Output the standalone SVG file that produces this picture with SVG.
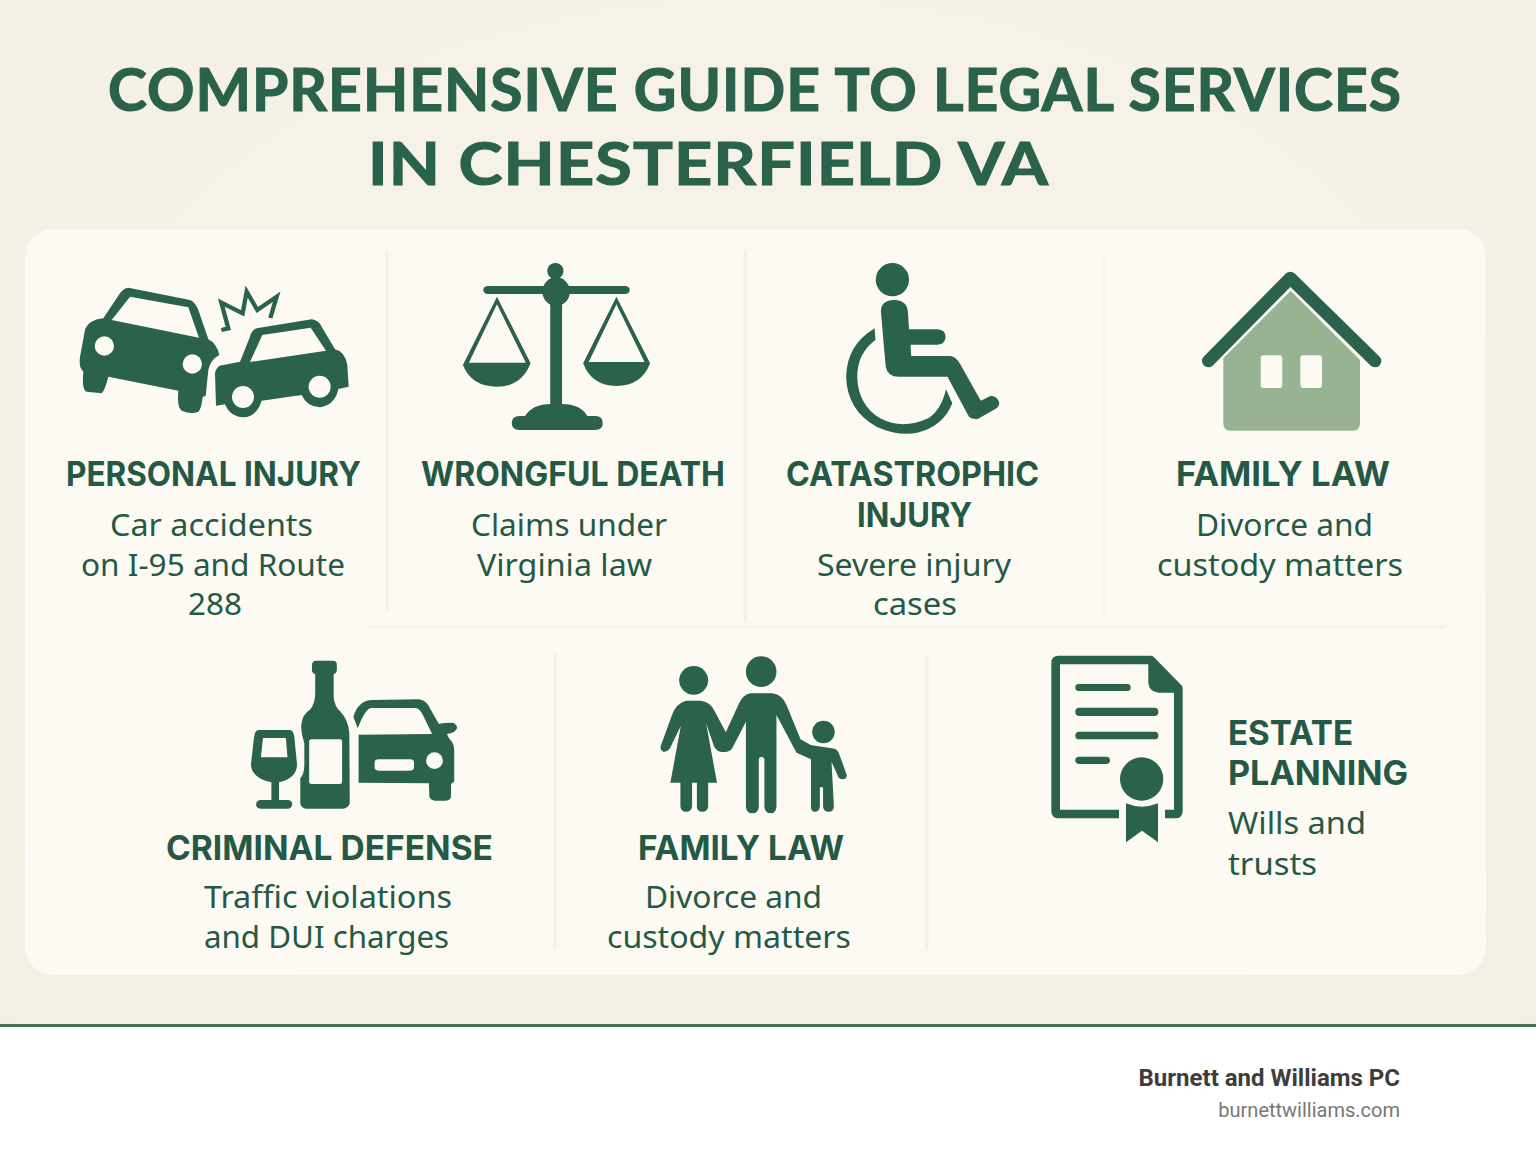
<svg xmlns="http://www.w3.org/2000/svg" width="1536" height="1154" viewBox="0 0 1536 1154">
<defs>
<radialGradient id="bg" cx=".5" cy=".45" r=".75"><stop offset=".5" stop-color="#f6f2e8"/><stop offset="1" stop-color="#f3efe3"/></radialGradient>
</defs>
<style>
.i{fill:#2a624b;fill-rule:evenodd}
.h{font-family:Inter,"Noto Sans","Liberation Sans",sans-serif;font-weight:700;font-size:34px;fill:#245a45}
.b{font-family:"Noto Sans","Liberation Sans",sans-serif;font-weight:400;font-size:31px;fill:#245a45}
.t{font-family:Lato,"Liberation Sans",sans-serif;font-weight:700;font-size:59px;fill:#2a624b;stroke:#2a624b;stroke-width:1.2px}
.d{stroke:#f6f2e9;stroke-width:3;fill:none}
.f{font-family:Roboto,"Liberation Sans",sans-serif;text-anchor:end}
</style>
<rect width="1536" height="1154" fill="#fff"/>
<rect id="background" width="1536" height="1025" fill="url(#bg)"/>
<rect id="footer-rule" y="1024" width="1536" height="3" fill="#44734f"/>
<rect id="panel" x="25" y="229" width="1461" height="746" rx="28" fill="#fdf9f3"/>
<g id="title">
<text class="t" x="108" y="111" textLength="1294" lengthAdjust="spacingAndGlyphs" letter-spacing="1">COMPREHENSIVE GUIDE TO LEGAL SERVICES</text>
<text class="t" x="368" y="185" textLength="681" lengthAdjust="spacingAndGlyphs" letter-spacing="1">IN CHESTERFIELD VA</text>
</g>
<g id="connectors">
<path class="d" d="M387 250V612M745 250V622M1104 255V615M368 627H1445M555 652V950M927 655V950"/>
</g>
<g id="personal-injury">
<g transform="translate(60 250) scale(.33333)">
<path class="i" d="M205 113L390 150Q405 155 415 180L445 268Q470 280 478 315Q450 330 445 360L437 438L428 440Q425 475 415 485Q395 495 365 482Q350 470 355 422L145 380Q135 420 125 430L80 425Q65 420 70 365Q55 350 60 320L75 240Q85 210 130 205L180 130Q190 115 205 113ZM210 140L155 210L417 263L385 172Z"/>
<circle cx="133" cy="288" r="29" fill="#fdf9f3"/><circle cx="397" cy="342" r="29" fill="#fdf9f3"/>
<path class="i" d="M590 235L755 208Q775 210 785 230L825 298Q855 305 862 345L866 410L835 417Q825 465 780 472Q740 470 725 435L605 452Q590 500 550 502Q510 500 495 463L468 467L465 370Q470 345 490 345L540 335L570 260Q575 240 590 235ZM607 255L570 336L798 302L752 233Z"/>
<circle cx="549" cy="441" r="33" fill="#fdf9f3"/><circle cx="779" cy="410" r="33" fill="#fdf9f3"/>
<path d="M484 240L505 235L484 158L548 190L560 125L592 180L650 140L631 204" fill="none" stroke="#2a624b" stroke-width="13"/>
</g>
<text class="h" x="66" y="486" textLength="295" lengthAdjust="spacingAndGlyphs">PERSONAL INJURY</text>
<text class="b" x="110" y="536" textLength="203" lengthAdjust="spacingAndGlyphs">Car accidents</text>
<text class="b" x="81" y="576" textLength="264" lengthAdjust="spacingAndGlyphs">on I-95 and Route</text>
<text class="b" x="188" y="615" textLength="54" lengthAdjust="spacingAndGlyphs">288</text>
</g>
<g id="wrongful-death">
<g transform="translate(440 250) scale(.3699 .33333)">
<rect class="i" x="117" y="108" width="396" height="24" rx="12"/>
<ellipse class="i" cx="314" cy="125" rx="37" ry="43"/><ellipse class="i" cx="312" cy="63" rx="22" ry="24"/>
<rect class="i" x="298" y="150" width="32" height="320"/>
<path class="i" d="M194 520Q194 498 215 498L230 498Q250 462 300 462L330 462Q380 462 398 498L420 498Q440 498 440 520Q440 540 420 540L215 540Q194 540 194 520Z"/>
<path class="i" d="M154 140L245 340Q220 410 154 410Q85 410 62 345ZM154 163L78 338L232 338Z"/>
<path class="i" d="M477 140L568 340Q545 408 477 408Q410 408 387 340ZM477 163L402 336L553 336Z"/>
</g>
<text class="h" x="421" y="486" textLength="304" lengthAdjust="spacingAndGlyphs">WRONGFUL DEATH</text>
<text class="b" x="471" y="536" textLength="196" lengthAdjust="spacingAndGlyphs">Claims under</text>
<text class="b" x="477" y="576" textLength="175" lengthAdjust="spacingAndGlyphs">Virginia law</text>
</g>
<g id="catastrophic-injury">
<g transform="translate(440 250) scale(.3699 .33333)">
<ellipse class="i" cx="1223" cy="89" rx="45" ry="50"/>
<path class="i" d="M1192 185Q1192 150 1228 150Q1262 150 1265 185L1268 238L1345 238Q1367 240 1367 262Q1365 284 1345 284L1272 284L1274 318L1380 318Q1395 320 1405 340L1462 452L1488 438Q1505 435 1512 458Q1512 470 1500 478L1455 506Q1440 510 1430 500L1372 380L1240 380Q1210 380 1205 350Z"/>
<path class="i" d="M1175 235L1177 270Q1128 310 1128 380Q1130 465 1190 505Q1250 540 1320 505Q1355 480 1368 418L1385 460Q1360 530 1290 548Q1240 560 1180 530Q1100 480 1098 380Q1100 285 1175 235Z"/>
</g>
<text class="h" x="786" y="486" textLength="253" lengthAdjust="spacingAndGlyphs">CATASTROPHIC</text>
<text class="h" x="857" y="527" textLength="115" lengthAdjust="spacingAndGlyphs">INJURY</text>
<text class="b" x="817" y="576" textLength="194" lengthAdjust="spacingAndGlyphs">Severe injury</text>
<text class="b" x="873" y="615" textLength="84" lengthAdjust="spacingAndGlyphs">cases</text>
</g>
<g id="family-law-house">
<g transform="translate(1190 260) scale(.33333)">
<path d="M302 92L510 300L510 490Q510 512 488 512L122 512Q100 512 100 490L100 295Z" fill="#97b391"/>
<path d="M55 303L301 54L555 303" fill="none" stroke="#2a624b" stroke-width="38" stroke-linecap="round" stroke-linejoin="round"/>
<rect x="212" y="286" width="65" height="98" rx="9" fill="#fdf9f3"/><rect x="331" y="286" width="65" height="98" rx="9" fill="#fdf9f3"/>
</g>
<text class="h" x="1176" y="486" textLength="214" lengthAdjust="spacingAndGlyphs">FAMILY LAW</text>
<text class="b" x="1196" y="536" textLength="177" lengthAdjust="spacingAndGlyphs">Divorce and</text>
<text class="b" x="1157" y="576" textLength="246" lengthAdjust="spacingAndGlyphs">custody matters</text>
</g>
<g id="criminal-defense">
<g transform="translate(230 650) scale(.4018 .33333)">
<path class="i" d="M70 240L150 240Q158 242 160 260L167 345Q165 385 122 397L122 450L145 450Q155 452 155 463Q153 476 145 476L75 476Q65 474 65 463Q65 452 75 450L103 450L103 397Q55 385 52 345L60 260Q62 242 70 240ZM82 264L77 322L143 322L139 264Z"/>
<path class="i" d="M212 32L258 32Q266 33 266 45L266 60Q265 70 258 72L258 140Q260 170 275 185Q295 210 297 250L298 460Q295 475 280 476L190 476Q176 475 175 460L175 385Q185 370 185 345L185 280Q175 240 178 220Q180 195 200 178Q212 160 212 130L212 72Q204 70 204 60L204 45Q205 33 212 32Z"/>
<rect x="197" y="268" width="82" height="134" rx="6" fill="#fdf9f3"/>
<path class="i" d="M307 200Q320 150 355 150L470 148Q490 150 500 180L520 222Q530 218 555 218Q566 225 565 235Q560 250 540 252L545 265Q558 280 558 300L558 395L550 402L550 440Q548 452 535 452L510 452Q495 450 496 435L495 400L320 398L320 254L503 252L480 195Q472 175 462 174L350 174Q335 180 318 235Z"/>
<rect x="360" y="328" width="98" height="34" rx="10" fill="#fdf9f3"/><ellipse cx="509" cy="332" rx="21" ry="25" fill="#fdf9f3"/>
</g>
<text class="h" x="166" y="860" textLength="327" lengthAdjust="spacingAndGlyphs">CRIMINAL DEFENSE</text>
<text class="b" x="204" y="908" textLength="248" lengthAdjust="spacingAndGlyphs">Traffic violations</text>
<text class="b" x="204" y="948" textLength="245" lengthAdjust="spacingAndGlyphs">and DUI charges</text>
</g>
<g id="family-law-people">
<g transform="translate(230 650) scale(.4018 .33333)">
<ellipse class="i" cx="1154" cy="91" rx="36" ry="43"/><ellipse class="i" cx="1322" cy="65" rx="38" ry="46"/><ellipse class="i" cx="1477" cy="246" rx="28" ry="34"/>
<path class="i" d="M1135 152L1172 152Q1197 156 1207 185L1240 260L1232 305Q1215 310 1205 290L1185 220L1212 398L1190 398L1190 470Q1188 485 1176 485Q1163 485 1162 470L1162 398L1150 398L1150 470Q1148 485 1135 485Q1123 485 1121 470L1121 398L1096 398L1122 228L1095 295Q1088 307 1078 305Q1068 300 1073 285L1100 195Q1110 160 1135 152Z"/>
<path class="i" d="M1295 130L1350 130Q1375 135 1385 165L1420 268L1445 285L1505 296Q1513 300 1517 315L1535 375Q1535 388 1525 388Q1515 388 1512 375L1497 335L1503 470Q1502 485 1490 485Q1478 485 1476 470L1476 412L1468 412L1468 470Q1466 485 1456 485Q1446 485 1446 470L1446 328L1410 308L1360 195L1360 470Q1358 490 1346 490Q1332 490 1330 470L1330 328Q1328 320 1322 320Q1317 320 1316 328L1316 470Q1314 490 1300 490Q1286 490 1284 470L1284 215L1250 295Q1240 310 1225 305L1232 252L1265 165Q1275 135 1295 130Z"/>
</g>
<text class="h" x="638" y="860" textLength="206" lengthAdjust="spacingAndGlyphs">FAMILY LAW</text>
<text class="b" x="645" y="908" textLength="177" lengthAdjust="spacingAndGlyphs">Divorce and</text>
<text class="b" x="607" y="948" textLength="244" lengthAdjust="spacingAndGlyphs">custody matters</text>
</g>
<g id="estate-planning">
<g transform="translate(1030 640) scale(.33333)">
<path d="M267 522L85 522Q77 522 77 514L77 68Q77 60 85 60L362 60L445 145L445 514Q445 522 437 522L405 522" fill="none" stroke="#2a624b" stroke-width="26" stroke-linejoin="round"/>
<path class="i" d="M355 60L372 60L455 145L455 158L385 158Q358 155 355 130Z"/>
<rect class="i" x="136" y="132" width="166" height="21" rx="10"/><rect class="i" x="136" y="203" width="249" height="25" rx="12"/><rect class="i" x="136" y="275" width="249" height="23" rx="11"/><rect class="i" x="136" y="350" width="104" height="22" rx="11"/>
<circle class="i" cx="335" cy="417" r="65"/>
<path class="i" d="M288 490Q335 510 384 490L384 607L336 572L288 607Z"/>
</g>
<text class="h" x="1228" y="745" textLength="125" lengthAdjust="spacingAndGlyphs">ESTATE</text>
<text class="h" x="1228" y="785" textLength="180" lengthAdjust="spacingAndGlyphs">PLANNING</text>
<text class="b" x="1228" y="834" textLength="138" lengthAdjust="spacingAndGlyphs">Wills and</text>
<text class="b" x="1228" y="875" textLength="89" lengthAdjust="spacingAndGlyphs">trusts</text>
</g>
<g id="footer">
<text class="f" x="1400" y="1086" font-size="24" font-weight="700" fill="#3d3d3d">Burnett and Williams PC</text>
<text class="f" x="1400" y="1117" font-size="20" fill="#777">burnettwilliams.com</text>
</g>
</svg>
